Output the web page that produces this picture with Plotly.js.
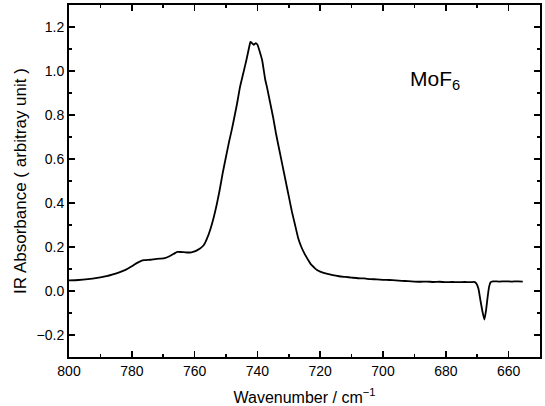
<!DOCTYPE html>
<html>
<head>
<meta charset="utf-8">
<script src="https://cdn.plot.ly/plotly-3.0.1.min.js"></script>
<style>html,body{margin:0;padding:0;background:#fff;}#chart{width:545px;height:406px;}</style>
</head>
<body>
<div id="chart"></div>
<script>
const wavenumber = [800,797,794,791,788,786,784,782,780,779,778,777,776,774,772.5,771,769.5,768,766.5,765.5,764,762.5,761,760,759,758,757,756,755,754,753,752,751,750,749,748.2,747.2,746.5,745.5,744.5,743.5,742.6,742.2,741.6,741.1,740.5,740,739.3,738.5,737.5,737,736,735,734,733,732,731,730,729,728,727,726,725,724,723,722,721,720,718,716,714,712,710,708,706,704,702,700,698,696,694,692,690,688,686,684,682,680,678,676,674,672,671,670.3,669.6,669,668.3,667.7,667.2,666.7,666.2,665.7,665,663,661,659,657,655.5];
const absorbance = [0.048,0.050,0.054,0.060,0.068,0.076,0.085,0.096,0.112,0.122,0.130,0.137,0.140,0.142,0.145,0.147,0.149,0.158,0.170,0.178,0.177,0.175,0.176,0.180,0.187,0.196,0.210,0.240,0.280,0.330,0.390,0.460,0.540,0.610,0.680,0.730,0.800,0.850,0.930,0.990,1.050,1.110,1.132,1.125,1.119,1.127,1.120,1.090,1.050,0.960,0.930,0.860,0.790,0.710,0.640,0.570,0.500,0.430,0.360,0.300,0.240,0.200,0.170,0.145,0.122,0.108,0.095,0.088,0.079,0.072,0.067,0.064,0.061,0.058,0.057,0.054,0.053,0.051,0.050,0.048,0.046,0.045,0.043,0.042,0.043,0.041,0.042,0.040,0.041,0.040,0.041,0.040,0.041,0.035,0.010,-0.040,-0.095,-0.130,-0.090,-0.030,0.020,0.040,0.044,0.043,0.044,0.043,0.044,0.043];
const labelText = 'MoF<sub>6</sub>';
const xTitle = 'Wavenumber / cm<sup>−1</sup>';
const yTitle = 'IR Absorbance ( arbitray unit )';

const font = 'Liberation Sans, Arial, Helvetica, sans-serif';
const trace = {x: wavenumber, y: absorbance, type: 'scatter', mode: 'lines',
  line: {color: '#000', width: 1.8, shape: 'spline', smoothing: 0.5}, hoverinfo: 'skip'};
const axisCommon = {showgrid: false, zeroline: false, showline: true, linecolor: '#000', linewidth: 2,
  mirror: 'ticks', ticks: 'inside', ticklen: 6, tickwidth: 1.5, tickcolor: '#000',
  tickfont: {family: font, size: 14, color: '#000'}};
const layout = {
  width: 545, height: 406,
  margin: {l: 69, r: 5, t: 5, b: 49},
  paper_bgcolor: '#fff', plot_bgcolor: '#fff', showlegend: false,
  xaxis: Object.assign({}, axisCommon, {range: [800, 650], dtick: 20, tick0: 800,
    minor: {ticks: 'inside', ticklen: 3, dtick: 10, tickwidth: 1.5, tickcolor: '#000'},
    title: {text: xTitle, font: {family: font, size: 16, color: '#000'}, standoff: 16}}),
  yaxis: Object.assign({}, axisCommon, {range: [-0.3, 1.3], dtick: 0.2, tick0: 0, tickformat: '.1f',
    minor: {ticks: 'inside', ticklen: 3, dtick: 0.1, tickwidth: 1.5, tickcolor: '#000'},
    title: {text: yTitle, font: {family: font, size: 17, color: '#000'}, standoff: 6}}),
  annotations: [{x: 683.5, y: 0.96, xref: 'x', yref: 'y', text: labelText, showarrow: false,
    font: {family: font, size: 21, color: '#000'}}]
};
Plotly.newPlot('chart', [trace], layout, {displayModeBar: false, staticPlot: true});
</script>
</body>
</html>
